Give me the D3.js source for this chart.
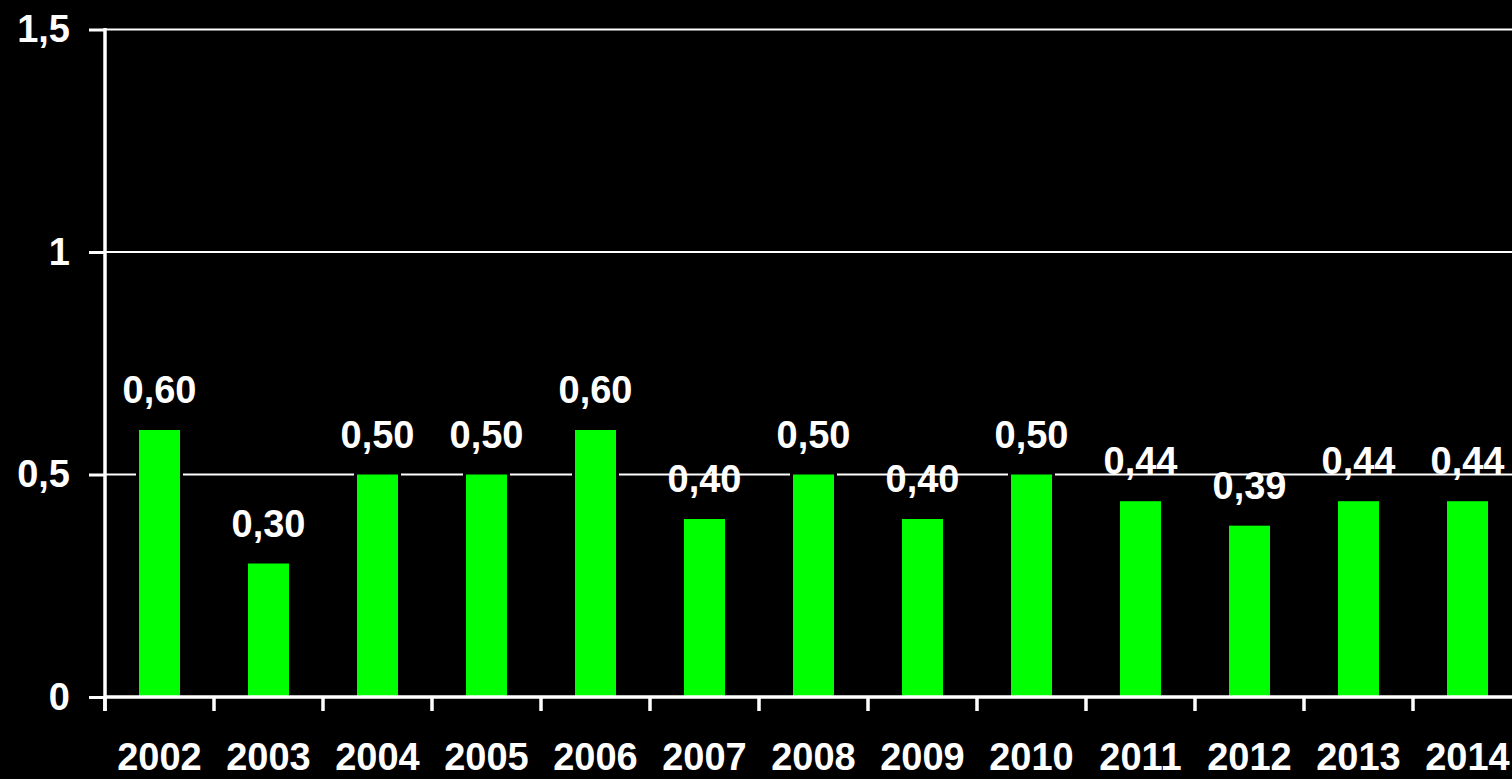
<!DOCTYPE html>
<html>
<head>
<meta charset="utf-8">
<script src="https://cdn.jsdelivr.net/npm/d3@7"></script>
<style>
html,body{margin:0;padding:0;background:#000;overflow:hidden;}
svg{display:block;}
text{font-family:"Liberation Sans",Arial,sans-serif;font-weight:bold;fill:#fff;}
</style>
</head>
<body>
<svg id="chart" width="1512" height="779"></svg>
<script>
const years = ["2002","2003","2004","2005","2006","2007","2008","2009","2010","2011","2012","2013","2014"];
const values = [0.60,0.30,0.50,0.50,0.60,0.40,0.50,0.40,0.50,0.44,0.385,0.44,0.44];
const valueLabels = ["0,60","0,30","0,50","0,50","0,60","0,40","0,50","0,40","0,50","0,44","0,39","0,44","0,44"];
const yTicks = [0,0.5,1,1.5];
const yTickLabels = ["0","0,5","1","1,5"];

const svg = d3.select("#chart");
const x0 = 105, bandW = 109;
const x = d3.scaleBand().domain(years).range([x0, x0 + bandW*years.length]).padding(0);
const y = d3.scaleLinear().domain([0,1.5]).range([697, 29.5]);
const barW = 41;
const fs = 38;

// gridlines
svg.append("g").selectAll("line").data(yTicks.filter(d=>d>0)).join("line")
  .attr("x1", x0).attr("x2", 1512)
  .attr("y1", d=>y(d)).attr("y2", d=>y(d))
  .attr("stroke","#fff").attr("stroke-width",2);

// bars
svg.append("g").selectAll("rect").data(years).join("rect")
  .attr("x", (d,i)=> x(d) + x.bandwidth()/2 - barW/2)
  .attr("width", barW)
  .attr("y", (d,i)=> y(values[i]))
  .attr("height", (d,i)=> y(0) - y(values[i]))
  .attr("fill","#00ff00")
  .attr("stroke","#000").attr("stroke-width",6).attr("paint-order","stroke");

// value labels
svg.append("g").selectAll("text").data(years).join("text")
  .attr("x", d=> x(d) + x.bandwidth()/2)
  .attr("y", (d,i)=> y(values[i]) - 27)
  .attr("text-anchor","middle")
  .attr("font-size", fs)
  .text((d,i)=> valueLabels[i]);

// y axis
const yAxis = d3.axisLeft(y).tickValues(yTicks).tickSize(16).tickPadding(19)
  .tickFormat((d,i)=> yTickLabels[i]);
const gy = svg.append("g").attr("transform",`translate(${x0},0)`).call(yAxis);
gy.select(".domain").remove();
gy.selectAll(".tick line").attr("stroke","#fff").attr("stroke-width",3);
gy.selectAll(".tick text").attr("font-size", fs).attr("fill","#fff")
  .attr("font-family","Liberation Sans, Arial, sans-serif").attr("font-weight","bold");
svg.append("line").attr("x1",x0).attr("x2",x0).attr("y1",y(1.5)-1.5).attr("y2",711)
  .attr("stroke","#fff").attr("stroke-width",3.5);

// x axis
const tickPos = d3.range(years.length+1).map(i=> x0 + i*bandW);
svg.append("line").attr("x1",x0).attr("x2",1512).attr("y1",y(0)).attr("y2",y(0))
  .attr("stroke","#fff").attr("stroke-width",3.5);
svg.append("g").selectAll("line").data(tickPos).join("line")
  .attr("x1",d=>d).attr("x2",d=>d).attr("y1",y(0)).attr("y2",711)
  .attr("stroke","#fff").attr("stroke-width",3.5);
svg.append("g").selectAll("text").data(years).join("text")
  .attr("x", d=> x(d) + x.bandwidth()/2)
  .attr("y", 770)
  .attr("text-anchor","middle")
  .attr("font-size", fs)
  .text(d=>d);
</script>
</body>
</html>
